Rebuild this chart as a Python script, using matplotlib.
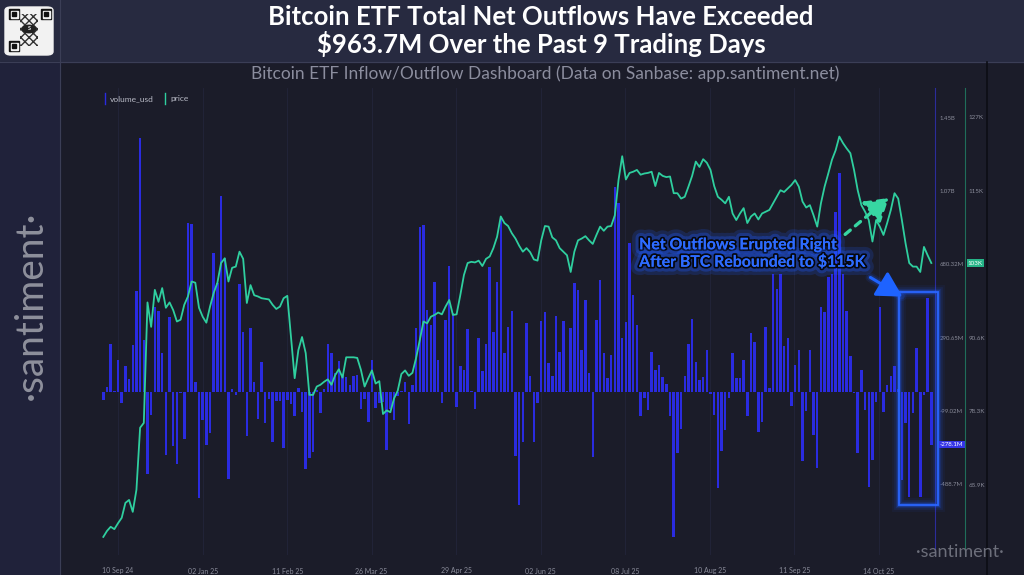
import matplotlib
matplotlib.use("Agg")
import matplotlib.pyplot as plt
import matplotlib.patheffects as pe
from matplotlib.patches import Rectangle, FancyArrowPatch, FancyBboxPatch, Circle
from matplotlib.transforms import blended_transform_factory
import numpy as np

# daily ETF net flows, millions USD
flows = [
    -40, 30, 257, 5, 172, -55, 140, 71, 250, 540,
    1350, 278, -433, -120, 455, 432, 209, -333, 402, -285,
    -380, -5, -247, 900, 894, 57, -559, -146, -278, -215,
    740, 580, 1043, 713, -460, 20, -15, 575, 320, -231,
    341, 55, -141, 163, -163, -35, -262, -45, -45, -296,
    -40, -60, -125, 25, -106, -407, -350, -315, 15, -109,
    20, 257, 209, 103, 168, 92, 83, 39, 85, 92,
    -88, -35, -156, 172, -84, -58, -50, -306, -90, -146,
    -20, 10, 55, -167, 40, 340, 880, 887, 437, 358,
    588, 172, -58, 384, 673, 420, -76, 140, 119, 335,
    10, -90, 287, 115, 257, 668, 322, 585, 933, 211,
    349, 432, -338, -598, -262, 367, 87, -262, -55, 381,
    429, 158, 87, 406, 216, 379, 10, 340, 583, 544,
    225, 491, 101, -341, 384, 597, 207, 75, 199, 1092,
    1004, 287, 376, 795, 517, 358, -125, -31, -93, 216,
    119, 145, 83, 43, -125, -766, -323, -196, 87, 257,
    388, 163, 66, 80, 225, -10, -120, -509, -310, -200,
    -31, 211, 75, 75, 172, -125, 317, 269, -209, -156,
    346, 22, 629, 547, 629, 246, 287, -72, 145, 225,
    -363, -97, 225, -226, -403, 452, 429, 615, 631, 960,
    1163, 631, 434, 193, -5, -323, 119, -93, -504, -359,
    -49, 455, -102, 40, 85, 140, 20, -465, -164, -554,
    -111, 234, -554, -15, 500, -278.1,
]

# BTC price, thousands USD
prices = [
    57.2, 58.2, 58.9, 58.5, 59.5, 60.4, 62.9, 63.4, 61.4, 65.1,
    75.5, 76.3, 96.5, 92.4, 98.6, 96.6, 98.9, 95.6, 96.5, 95.2,
    93.3, 93.6, 96.1, 97.5, 100.0, 99.8, 95.6, 94.1, 93.1, 95.8,
    98.1, 99.8, 103.1, 103.9, 100.0, 102.3, 102.5, 105.0, 103.8, 96.4,
    99.4, 97.7, 97.5, 97.2, 97.1, 97.0, 96.1, 95.4, 95.8, 97.2,
    97.6, 90.8, 83.8, 88.5, 90.7, 88.0, 81.0, 81.0, 82.4, 82.7,
    83.2, 83.6, 82.7, 84.3, 85.3, 83.9, 87.3, 87.3, 87.3, 87.2,
    85.2, 82.4, 83.8, 85.1, 82.9, 83.3, 77.8, 78.4, 78.1, 80.4,
    81.7, 84.5, 85.1, 84.2, 84.7, 87.2, 90.2, 93.3, 93.0, 94.1,
    94.4, 94.8, 94.5, 95.8, 96.9, 94.4, 94.5, 97.7, 101.1, 103.1,
    103.3, 103.2, 103.5, 102.6, 103.8, 104.2, 105.6, 107.5, 110.9, 109.8,
    109.3, 108.1, 107.2, 106.0, 105.0, 105.6, 104.9, 103.7, 103.5, 106.9,
    109.3, 109.2, 107.4, 106.9, 105.6, 105.0, 104.4, 101.6, 105.0, 106.9,
    107.2, 107.6, 106.9, 106.3, 107.8, 109.2, 108.5, 109.2, 109.3, 111.1,
    117.0, 121.0, 117.1, 118.2, 118.4, 118.7, 117.9, 118.1, 118.2, 118.4,
    116.0, 118.2, 117.7, 117.5, 117.6, 114.8, 114.8, 113.9, 114.2, 115.9,
    117.7, 120.1, 119.2, 120.5, 119.9, 118.7, 116.0, 114.2, 113.7, 113.1,
    114.2, 111.4, 110.3, 111.4, 112.3, 109.8, 110.9, 111.4, 110.4, 111.4,
    111.7, 112.0, 113.1, 114.2, 115.3, 115.0, 115.6, 116.2, 117.0, 115.9,
    113.4, 112.4, 112.8, 111.1, 109.2, 113.1, 115.9, 118.1, 120.4, 122.0,
    124.3, 123.2, 122.3, 121.5, 118.7, 115.3, 112.8, 111.7, 110.3, 106.7,
    110.3, 109.2, 107.8, 109.8, 112.0, 114.8, 113.9, 110.3, 106.4, 103.1,
    102.5, 102.5, 101.6, 105.8, 104.4, 103.1,
]

tick_pos = [4.0, 27.0, 50.0, 72.9, 95.9, 118.9, 141.8, 164.8, 187.8, 210.7]
tick_labels = ["10 Sep 24", "02 Jan 25", "11 Feb 25", "26 Mar 25", "29 Apr 25",
               "02 Jun 25", "08 Jul 25", "10 Aug 25", "11 Sep 25", "14 Oct 25"]

vol_ticks = [-488.7, -99.02, 290.65, 680.32, 1069.99, 1459.66]
vol_tick_labels = ["-488.7M", "-99.02M", "290.65M", "680.32M", "1.07B", "1.45B"]
price_ticks = [65.9, 78.3, 90.6, 102.9, 115.2, 127.5]
price_tick_labels = ["65.9K", "78.3K", "90.6K", "103K", "115K", "127K"]

title = "Bitcoin ETF Total Net Outflows Have Exceeded\n$963.7M Over the Past 9 Trading Days"
subtitle = "Bitcoin ETF Inflow/Outflow Dashboard (Data on Sanbase: app.santiment.net)"
note = "Net Outflows Erupted Right\nAfter BTC Rebounded to $115K"

BG = "#1b1c29"
BAR = "#2a2be0"
LINE = "#2fcf9f"
TXT = "#8a8c9a"
GLOW = "#1f5cff"

plt.rcParams["font.family"] = ["Lato", "DejaVu Sans"]

W, H = 1024, 575
fig = plt.figure(figsize=(W / 100, H / 100), dpi=100, facecolor=BG)

def fx(px):
    return px / W

def fy(py):
    return 1 - py / H

# header band and left strip
fig.patches.append(Rectangle((0, fy(62)), 1, 62 / H, transform=fig.transFigure,
                             color="#272a40", zorder=0))
fig.patches.append(Rectangle((0, 0), fx(60), fy(62), transform=fig.transFigure,
                             color="#20223a", zorder=0))
fig.add_artist(plt.Line2D([0, 1], [fy(62), fy(62)], transform=fig.transFigure,
                          color="#3b3e56", lw=0.8))
fig.add_artist(plt.Line2D([fx(60), fx(60)], [0, 1], transform=fig.transFigure,
                          color="#3b3e56", lw=0.8))
fig.add_artist(plt.Line2D([fx(987), fx(987)], [0, fy(62)], transform=fig.transFigure,
                          color="#0c0d14", lw=1.2))

# QR code placeholder
fig.patches.append(FancyBboxPatch((fx(5), fy(55)), fx(48), 48 / H,
                                  boxstyle="round,pad=0,rounding_size=0.006",
                                  transform=fig.transFigure, color="#f2f2f2", zorder=1))
for cx, cy in [(9, 9), (41, 9), (9, 41)]:
    for size, col in [(10, "#111111"), (7, "#f2f2f2"), (4, "#111111")]:
        fig.patches.append(Rectangle((fx(cx + (10 - size) / 2), fy(cy + (10 - size) / 2 + size)),
                                     fx(size), size / H, transform=fig.transFigure,
                                     color=col, zorder=2))
fig.patches.append(Rectangle((fx(20), fy(46)), fx(18), 32 / H, transform=fig.transFigure,
                             facecolor="none", edgecolor="#333333", hatch="xxxx", lw=0, zorder=2))
fig.add_artist(Circle((fx(29), fy(29)), 0.0065, transform=fig.transFigure,
                      color="#222222", zorder=3))
fig.text(fx(29), fy(29), "S", color="white", fontsize=4, ha="center", va="center",
         fontweight="bold", zorder=4)

# titles
fig.text(fx(541), fy(31), title, color="white", fontsize=18.5, fontweight="bold",
         ha="center", va="center", linespacing=1.08)
fig.text(fx(545), fy(74), subtitle, color="#8b8d9e", fontsize=12.5, ha="center", va="center")

# santiment watermarks
fig.text(fx(31), fy(305), "\u00b7santiment\u00b7", color="#8e909c", fontsize=28,
         rotation=90, ha="center", va="center")
fig.text(fx(960), fy(552), "\u00b7santiment\u00b7", color="#6c6e7a", fontsize=13,
         ha="center", va="center")

# main axes
ax = fig.add_axes([fx(100), fy(555), 835 / W, 467 / H])
ax.set_facecolor("none")
ax2 = ax.twinx()
ax.set_zorder(2)
ax2.set_zorder(3)

idx = np.arange(len(flows))
ax.bar(idx, flows, width=0.68, color=BAR, linewidth=0, zorder=2)
ax2.plot(idx, prices, color=LINE, lw=1.3, zorder=4, solid_joinstyle="round")

ax.set_xlim(-0.9, 226.0)
ax.set_ylim(-863.4, 1616.4)
ax2.set_ylim(54.17, 132.43)

ax.set_xticks(tick_pos, tick_labels)
ax.set_yticks(vol_ticks, vol_tick_labels)
ax.yaxis.tick_right()
ax2.set_yticks(price_ticks, price_tick_labels)
ax.tick_params(axis="x", length=0, pad=9, labelsize=5.0, labelcolor=TXT)
ax.tick_params(axis="y", length=0, pad=3.5, labelsize=4.3, labelcolor=TXT)
ax2.tick_params(axis="y", length=0, pad=2.5, labelsize=4.5, labelcolor=TXT)
ax.grid(axis="x", color="#23253a", lw=0.6)
for s in ["top", "left", "bottom"]:
    ax.spines[s].set_visible(False)
    ax2.spines[s].set_visible(False)
ax.spines["right"].set_color("#2c2c9a")
ax.spines["right"].set_linewidth(0.8)
ax2.spines["right"].set_position(("outward", 21.6))
ax2.spines["right"].set_color("#1f6e5a")
ax2.spines["right"].set_linewidth(0.8)

# legend
fig.add_artist(plt.Line2D([fx(105), fx(105)], [fy(104), fy(93)], transform=fig.transFigure,
                          color=BAR, lw=1))
fig.text(fx(110), fy(99), "volume_usd", color="#b9bbc6", fontsize=6, va="center")
fig.add_artist(plt.Line2D([fx(165), fx(165)], [fy(104), fy(93)], transform=fig.transFigure,
                          color=LINE, lw=1))
fig.text(fx(170), fy(99), "price", color="#b9bbc6", fontsize=6, va="center")

# last-value badges
tv = blended_transform_factory(ax.transAxes, ax.transData)
ax.text(1.006, flows[-1], "%.1fM" % flows[-1], transform=tv, color="white", fontsize=4.4,
        va="center", ha="left", bbox=dict(boxstyle="square,pad=0.2", fc="#3535e6", ec="none"),
        zorder=10, clip_on=False)
tp = blended_transform_factory(ax2.transAxes, ax2.transData)
ax2.text(1.0395, prices[-1], "%.0fK" % prices[-1], transform=tp, color="white", fontsize=4.5,
         va="center", ha="left", bbox=dict(boxstyle="square,pad=0.2", fc="#25b487", ec="none"),
         zorder=10, clip_on=False)

# highlight box around the last 9 days
for lw, a in [(10, 0.06), (7, 0.1), (4.5, 0.16), (2.8, 0.3)]:
    ax.add_patch(Rectangle((216.1, -598), 10.7, 1131, fill=False, ec=GLOW, lw=lw,
                           alpha=a, clip_on=False, zorder=6))
ax.add_patch(Rectangle((216.1, -598), 10.7, 1131, fill=False, ec="#2a66ff", lw=1.3,
                       clip_on=False, zorder=7))

# blue arrow to box
for lw, a in [(7, 0.1), (4.5, 0.2)]:
    ax.add_patch(FancyArrowPatch((207.8, 618), (217.6, 503), arrowstyle="-", lw=lw,
                                 color=GLOW, alpha=a, zorder=6, clip_on=False))
ax.add_patch(FancyArrowPatch((207.8, 618), (217.8, 501),
                             arrowstyle="-|>,head_length=9,head_width=5", mutation_scale=1.7,
                             lw=2.2, color="#1e63ff", zorder=8, clip_on=False))

# green dashed arrow to the rebound
ax2.add_patch(FancyArrowPatch((201.0, 107.6), (214.0, 114.3),
                              arrowstyle="-|>,head_length=8,head_width=5", mutation_scale=1.7,
                              lw=2.4, linestyle=(0, (2, 2)), color="#37d6a2", zorder=8))

# annotation text
ax.text(145.6, 735, note, color="#2d6bff", fontsize=11.4, fontweight="bold",
        ha="left", va="center", linespacing=1.2, zorder=9,
        path_effects=[pe.withStroke(linewidth=12, foreground=GLOW, alpha=0.18),
                      pe.withStroke(linewidth=7, foreground=GLOW, alpha=0.3),
                      pe.withStroke(linewidth=2.6, foreground="#06070d"),
                      pe.Normal()])

fig.savefig("out.png", dpi=100, facecolor=BG)
